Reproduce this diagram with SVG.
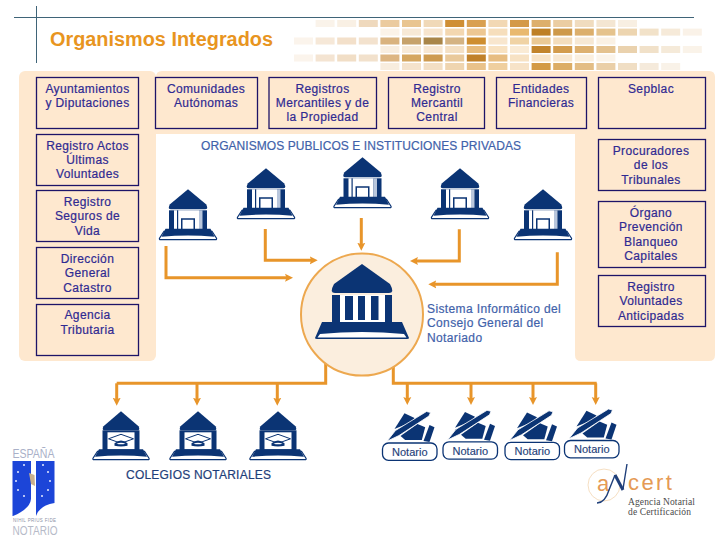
<svg xmlns="http://www.w3.org/2000/svg" width="720" height="540" viewBox="0 0 720 540">
<style>
text{font-family:"Liberation Sans",Arial,sans-serif}
.box{fill:none;stroke:#1d1468;stroke-width:1.3}
.bt{font-size:12px;fill:#2f2a92;text-anchor:middle;letter-spacing:.38px;stroke:#2f2a92;stroke-width:.2}
.bl{font-size:12px;fill:#3f62aa;letter-spacing:.38px;stroke:#3f62aa;stroke-width:.2}
.panel{fill:#fee8cf}
.conn{fill:none;stroke:#e8952a;stroke-width:3}
.nv{fill:#0b3474}
.wh{fill:#fff}
.lab{fill:#fff;stroke:#0b3474;stroke-width:1.3}
.nt{font-size:11px;fill:#1f3f7a;text-anchor:middle;stroke:#1f3f7a;stroke-width:.15}
.t{width:19px;height:7px}
</style>
<defs>
<marker id="ah" markerUnits="userSpaceOnUse" markerWidth="9" markerHeight="9" viewBox="0 0 9 9" refX="3" refY="4.5" orient="auto"><path d="M0,.5L8,4.5L0,8.5L1.5,4.5Z" fill="#e8952a"/></marker>
<symbol id="bank" viewBox="0 0 58 51" overflow="visible">
<path class="nv" d="M29,0L47,15Q50,20 46,20H12Q8,20 11,15Z"/>
<rect class="nv" x="10" y="21" width="38" height="20"/>
<rect class="wh" x="15" y="21" width="25" height="20"/>
<rect x="18" y="21" width="1.2" height="20" fill="#0b3474"/>
<rect x="40" y="21" width="3.5" height="20" fill="#b8c6dc"/>
<path class="nv" d="M22,41V29H36V41H34.5V30.5H23.5V41Z"/>
<path fill="#fff" stroke="#0b3474" stroke-width="1.2" d="M5,42H53L57.5,49Q58,50.3 56.5,50.3H1.5Q0,50.3 .5,49Z"/>
<path class="nv" d="M6.5,39.5H51.5L55.5,47.5Q29,45 2.5,47.5Z"/>
</symbol>
<symbol id="cole" viewBox="0 0 57 49" overflow="visible">
<path class="nv" d="M28.5,0L46,15Q48,19 45,19H12Q9,19 11,15Z"/>
<rect class="nv" x="10" y="19" width="37" height="24"/>
<rect class="wh" x="15" y="21" width="27" height="17"/>
<path fill="none" stroke="#0b3474" stroke-width="1" d="M16,27.5L28.5,23L41,27.5L28.5,32Z"/>
<path class="nv" d="M22,32Q28.5,26.5 35,32V34.5Q28.5,36 22,34.5Z"/>
<path fill="#fff" d="M24,32.5Q28.5,30.5 33,32.5Q28.5,33.5 24,32.5Z"/>
<path fill="#fff" stroke="#0b3474" stroke-width="1.2" d="M5,40H52L56.5,47Q57,48.4 55.5,48.4H1.5Q0,48.4 .5,47Z"/>
<path class="nv" d="M6.5,38H50.5L54.5,45.5Q28.5,43 2.5,45.5Z"/>
</symbol>
<symbol id="pen" viewBox="0 -33 55 34" width="55" height="34" overflow="visible">
<path class="nv" d="M12,-14L22,-29.7L32,-25L29,-21Z"/>
<path class="nv" d="M18,-7L35,-19L42.7,-15.7L39.3,-3L22.7,-3Z"/>
<path class="nv" d="M41,-2L47,-18L52,-15.7L47,-1Z"/>
<path class="nv" stroke="#fff" stroke-width=".8" d="M4.5,-1.8L13,-12.5L44,-31.5L48,-30.5L46.5,-27L16.5,-7.5Z"/>
</symbol>
</defs>

<g id="header">
<g id="mosaic">
<g transform="translate(0,20)">
<rect class="t" x="315.6" fill="#faf3ea"/><rect class="t" x="337.2" fill="#f9f0e4"/><rect class="t" x="358.8" fill="#efd9bd"/><rect class="t" x="380.4" fill="#ebcb9f"/><rect class="t" x="402" fill="#e9c590"/><rect class="t" x="423.6" fill="#f0d9b8"/><rect class="t" x="445.2" fill="#cf8f35"/><rect class="t" x="466.8" fill="#d9a050"/><rect class="t" x="488.4" fill="#f2d8b4"/><rect class="t" x="510" fill="#d49a48"/><rect class="t" x="531.6" fill="#ddaf6c"/><rect class="t" x="553.2" fill="#ebcda2"/><rect class="t" x="574.8" fill="#f0dcbf"/><rect class="t" x="596.4" fill="#f4e6d2"/><rect class="t" x="618" fill="#f8efe2"/>
</g>
<g transform="translate(0,28.6)">
<rect class="t" x="380.4" fill="#fbf3e8"/><rect class="t" x="402" fill="#f7e9d6"/><rect class="t" x="423.6" fill="#f7e5ce"/><rect class="t" x="445.2" fill="#f3d7b0"/><rect class="t" x="466.8" fill="#edc792"/><rect class="t" x="488.4" fill="#f6debc"/><rect class="t" x="510" fill="#e9b96f"/><rect class="t" x="531.6" fill="#be8026"/><rect class="t" x="553.2" fill="#ce994a"/><rect class="t" x="574.8" fill="#dcaf6c"/><rect class="t" x="596.4" fill="#e5c38d"/><rect class="t" x="618" fill="#edd5b0"/><rect class="t" x="639.6" fill="#f2e2c9"/><rect class="t" x="661.2" fill="#f6ead9"/><rect class="t" x="682.8" fill="#faf2e8"/>
</g>
<g transform="translate(0,37.5)">
<rect class="t" x="294" fill="#fbf4ec"/><rect class="t" x="315.6" fill="#f6e8d8"/><rect class="t" x="337.2" fill="#f3e0ca"/><rect class="t" x="358.8" fill="#f3e2ce"/><rect class="t" x="380.4" fill="#d9b37f"/><rect class="t" x="402" fill="#c6a26b"/><rect class="t" x="423.6" fill="#a98649"/><rect class="t" x="445.2" fill="#d4b383"/><rect class="t" x="466.8" fill="#ce8e30"/><rect class="t" x="488.4" fill="#f8e6ce"/><rect class="t" x="510" fill="#f0d3a5"/><rect class="t" x="531.6" fill="#eac994"/><rect class="t" x="553.2" fill="#f3ddbd"/><rect class="t" x="574.8" fill="#f6e8d4"/><rect class="t" x="596.4" fill="#faf1e4"/>
</g>
<g transform="translate(0,46)">
<rect class="t" x="380.4" fill="#f8eee0"/><rect class="t" x="402" fill="#f7ead8"/><rect class="t" x="423.6" fill="#f7e7d2"/><rect class="t" x="445.2" fill="#f4e0c4"/><rect class="t" x="466.8" fill="#e7bb7b"/><rect class="t" x="488.4" fill="#f8e2c2"/><rect class="t" x="510" fill="#faebd5"/><rect class="t" x="531.6" fill="#c2842b"/><rect class="t" x="553.2" fill="#d39c4d"/><rect class="t" x="574.8" fill="#ddb06f"/><rect class="t" x="596.4" fill="#e4c28f"/><rect class="t" x="618" fill="#ead2ae"/><rect class="t" x="639.6" fill="#f1e1c9"/><rect class="t" x="661.2" fill="#f5ead9"/><rect class="t" x="682.8" fill="#faf3e9"/>
</g>
<g transform="translate(0,54.5)">
<rect class="t" x="294" fill="#fbf4ec"/><rect class="t" x="315.6" fill="#f4e4d2"/><rect class="t" x="337.2" fill="#f1dec6"/><rect class="t" x="358.8" fill="#f2e1cc"/><rect class="t" x="380.4" fill="#ddb683"/><rect class="t" x="402" fill="#d5a761"/><rect class="t" x="423.6" fill="#ce9b50"/><rect class="t" x="445.2" fill="#e9c99b"/><rect class="t" x="466.8" fill="#c0812a"/><rect class="t" x="488.4" fill="#e7bd82"/><rect class="t" x="510" fill="#f7e2c4"/><rect class="t" x="531.6" fill="#f8e4c8"/><rect class="t" x="553.2" fill="#f8e8d2"/><rect class="t" x="574.8" fill="#faefdf"/><rect class="t" x="596.4" fill="#fbf4ea"/>
</g>
<g transform="translate(0,63)">
<rect class="t" x="380.4" fill="#f8edde"/><rect class="t" x="402" fill="#f5e3cc"/><rect class="t" x="423.6" fill="#f3dfc4"/><rect class="t" x="445.2" fill="#efd5b0"/><rect class="t" x="466.8" fill="#e9c28a"/><rect class="t" x="488.4" fill="#efcf9f"/><rect class="t" x="510" fill="#f7e3c8"/><rect class="t" x="531.6" fill="#d39a45"/><rect class="t" x="553.2" fill="#dcad66"/><rect class="t" x="574.8" fill="#e3bd85"/><rect class="t" x="596.4" fill="#eacfa8"/><rect class="t" x="618" fill="#f0dec4"/><rect class="t" x="639.6" fill="#f5eadb"/><rect class="t" x="661.2" fill="#f9f2e8"/>
</g>
</g>
<path d="M14,17.5H694" stroke="#3f6478" stroke-width="1" fill="none"/>
<path d="M36.5,6V63" stroke="#3f6478" stroke-width="1" fill="none"/>
<text x="50" y="46" font-size="20" font-weight="700" fill="#e8951f" textLength="223" lengthAdjust="spacingAndGlyphs">Organismos Integrados</text>
</g>

<g id="panels">
<rect class="panel" x="19" y="71" width="137" height="290" rx="6"/>
<path class="panel" d="M162,71H709Q715,71 715,77V355Q715,361 709,361H581Q575,361 575,355V134H156V77Q156,71 162,71Z"/>
</g>

<g id="n-ayuntamientos"><rect class="box" x="36.5" y="77.5" width="102" height="51"/><text class="bt" x="87.5" y="92.5">Ayuntamientos</text><text class="bt" x="87.5" y="106.5">y Diputaciones</text></g>
<g id="n-comunidades"><rect class="box" x="155.5" y="77.5" width="102" height="51"/><text class="bt" x="206" y="92.5">Comunidades</text><text class="bt" x="206" y="106.5">Autónomas</text></g>
<g id="n-registros"><rect class="box" x="269" y="77.5" width="107.5" height="51"/><text class="bt" x="322.5" y="92.5">Registros</text><text class="bt" x="322.5" y="106.5">Mercantiles y de</text><text class="bt" x="322.5" y="120.5">la Propiedad</text></g>
<g id="n-mercantil"><rect class="box" x="388.5" y="77.5" width="96" height="51"/><text class="bt" x="437" y="92.5">Registro</text><text class="bt" x="437" y="106.5">Mercantil</text><text class="bt" x="437" y="120.5">Central</text></g>
<g id="n-entidades"><rect class="box" x="496.5" y="77.5" width="90" height="51"/><text class="bt" x="541" y="92.5">Entidades</text><text class="bt" x="541" y="106.5">Financieras</text></g>
<g id="n-sepblac"><rect class="box" x="598.5" y="77.5" width="107" height="51"/><text class="bt" x="651" y="92.5">Sepblac</text></g>
<g id="n-actos"><rect class="box" x="36.5" y="134.5" width="102" height="51"/><text class="bt" x="87.5" y="150">Registro Actos</text><text class="bt" x="87.5" y="164">Últimas</text><text class="bt" x="87.5" y="178">Voluntades</text></g>
<g id="n-seguros"><rect class="box" x="36.5" y="190.5" width="102" height="51"/><text class="bt" x="87.5" y="205.5">Registro</text><text class="bt" x="87.5" y="220">Seguros de</text><text class="bt" x="87.5" y="234.5">Vida</text></g>
<g id="n-catastro"><rect class="box" x="36.5" y="247.5" width="102" height="51"/><text class="bt" x="87.5" y="262.5">Dirección</text><text class="bt" x="87.5" y="277">General</text><text class="bt" x="87.5" y="291.5">Catastro</text></g>
<g id="n-agencia"><rect class="box" x="36.5" y="304.5" width="102" height="51"/><text class="bt" x="87.5" y="319">Agencia</text><text class="bt" x="87.5" y="333.5">Tributaria</text></g>
<g id="n-procuradores"><rect class="box" x="598.5" y="139.5" width="107" height="51"/><text class="bt" x="651" y="154.5">Procuradores</text><text class="bt" x="651" y="169">de los</text><text class="bt" x="651" y="183.5">Tribunales</text></g>
<g id="n-organo"><rect class="box" x="598.5" y="201.5" width="107" height="66"/><text class="bt" x="651" y="217">Órgano</text><text class="bt" x="651" y="231">Prevención</text><text class="bt" x="651" y="245.5">Blanqueo</text><text class="bt" x="651" y="260">Capitales</text></g>
<g id="n-anticipadas"><rect class="box" x="598.5" y="275.5" width="107" height="51"/><text class="bt" x="651" y="291">Registro</text><text class="bt" x="651" y="305">Voluntades</text><text class="bt" x="651" y="319.5">Anticipadas</text></g>

<text id="t-organismos" x="201" y="149.5" font-size="12" fill="#3f62aa" stroke="#3f62aa" stroke-width=".2" textLength="320">ORGANISMOS PUBLICOS E INSTITUCIONES PRIVADAS</text>

<g id="connectors">
<path class="conn" marker-end="url(#ah)" d="M166,246V277.7H288"/>
<path class="conn" marker-end="url(#ah)" d="M265.3,229V260.3H312.7"/>
<path class="conn" marker-end="url(#ah)" d="M361.3,218V245.7"/>
<path class="conn" marker-end="url(#ah)" d="M459.3,229.3V261H415"/>
<path class="conn" marker-end="url(#ah)" d="M557.3,252.3V284.3H433.3"/>
<path class="conn" d="M325.7,363V383.3H116.7"/>
<path class="conn" marker-end="url(#ah)" d="M116.7,383.3V400.7"/>
<path class="conn" marker-end="url(#ah)" d="M197,383.3V400.7"/>
<path class="conn" marker-end="url(#ah)" d="M277.3,383.3V400.7"/>
<path class="conn" d="M393.3,363V383.3H596.7"/>
<path class="conn" marker-end="url(#ah)" d="M407.3,383.3V400"/>
<path class="conn" marker-end="url(#ah)" d="M471,383.3V400"/>
<path class="conn" marker-end="url(#ah)" d="M533,383.3V400"/>
<path class="conn" marker-end="url(#ah)" d="M595.7,383.3V400"/>
</g>

<use id="bank1" href="#bank" x="159" y="189.3" width="58" height="51"/>
<use id="bank2" href="#bank" x="237" y="168.3" width="58" height="51"/>
<use id="bank3" href="#bank" x="333.5" y="157.3" width="58" height="51"/>
<use id="bank4" href="#bank" x="431" y="168.3" width="58" height="51"/>
<use id="bank5" href="#bank" x="514" y="189.3" width="58" height="51"/>

<g id="central">
<circle cx="362" cy="314.6" r="61" fill="#fbeede" stroke="#eda84f" stroke-width="2"/>
<g transform="translate(315,264)">
<path class="nv" d="M47,0L75,20Q80,29 74,29H20Q14,29 19,20Z"/>
<rect class="wh" x="17" y="31" width="60" height="28"/>
<rect class="nv" x="17" y="31" width="8" height="28"/><rect class="nv" x="30" y="32" width="8" height="24"/><rect class="nv" x="43" y="32" width="7" height="24"/><rect class="nv" x="56" y="32" width="7.5" height="24"/><rect class="nv" x="70" y="31" width="7" height="28"/>
<path class="nv" d="M7,58H87L94,74Q94,75 92,75H2Q0,75 0,74Z"/>
<path class="wh" d="M5,70Q47,66 89,70L91.5,73.5H2.5Z"/>
</g>
</g>
<text id="t-sistema" class="bl"><tspan x="427" y="312.5">Sistema Informático del</tspan><tspan x="427" y="327">Consejo General del</tspan><tspan x="427" y="341.5">Notariado</tspan></text>

<use id="colegio1" href="#cole" x="92.5" y="411.3" width="57" height="49"/>
<use id="colegio2" href="#cole" x="169.5" y="411.3" width="57" height="49"/>
<use id="colegio3" href="#cole" x="249.5" y="411.3" width="57" height="49"/>
<text id="t-colegios" x="126" y="479" font-size="12" fill="#1f3f7a" stroke="#1f3f7a" stroke-width=".2" textLength="145">COLEGIOS NOTARIALES</text>

<g id="notario1" transform="translate(382.5,443)"><use href="#pen" x="0" y="-33" width="55" height="34"/><rect class="lab" width="54.5" height="17.3" rx="6"/><text class="nt" x="27.3" y="12.8">Notario</text></g>
<g id="notario2" transform="translate(443,441.8)"><use href="#pen" x="0" y="-33" width="55" height="34"/><rect class="lab" width="54.5" height="17.3" rx="6"/><text class="nt" x="27.3" y="12.8">Notario</text></g>
<g id="notario3" transform="translate(505,442.3)"><use href="#pen" x="0" y="-33" width="55" height="34"/><rect class="lab" width="54.5" height="17.3" rx="6"/><text class="nt" x="27.3" y="12.8">Notario</text></g>
<g id="notario4" transform="translate(564.5,440.5)"><use href="#pen" x="0" y="-33" width="55" height="34"/><rect class="lab" width="54.5" height="17.3" rx="6"/><text class="nt" x="27.3" y="12.8">Notario</text></g>

<g id="logo-notario">
<text x="12.5" y="458" font-size="12.5" fill="#a9b0c8" textLength="42" lengthAdjust="spacingAndGlyphs">ESPAÑA</text>
<path fill="#1c45d8" d="M12.5,461H31V499Q30,509 13,516H12.5Z"/>
<path fill="#1c45d8" d="M36,461H54.5V503Q40,505 36,516Z"/>
<g fill="#e6ebff"><circle cx="24" cy="465" r="1"/><circle cx="18" cy="472" r="1"/><circle cx="16" cy="481" r="1"/><circle cx="18" cy="490" r="1"/><circle cx="24" cy="496" r="1"/><circle cx="43" cy="465" r="1"/><circle cx="48" cy="472" r="1"/><circle cx="50" cy="481" r="1"/><circle cx="48" cy="490" r="1"/><circle cx="42" cy="496" r="1"/></g>
<path fill="#c9b08e" d="M29,473L34.5,475L35,486L31,484Z"/>
<text x="13" y="522" font-size="4.5" fill="#8c93a6" textLength="43">NIHIL PRIUS FIDE</text>
<text x="12.5" y="534.5" font-size="12" fill="#b6bac8" textLength="45" lengthAdjust="spacingAndGlyphs">NOTARIO</text>
</g>

<g id="logo-ancert">
<circle cx="604" cy="485" r="16" fill="none" stroke="#f3d6b2" stroke-width=".8"/>
<text x="597" y="491" font-size="22" fill="#e59a55">a</text>
<path fill="none" stroke="#1f3f7a" stroke-width="1.4" d="M597,503Q605,503 609,490L615,475M623,489L627,464"/>
<path fill="none" stroke="#1f3f7a" stroke-width="3" d="M615,475L623,490"/>
<text x="628" y="490" font-size="22" fill="#e59a55" letter-spacing="2.4">cert</text>
<text x="628" y="504.5" font-size="9.5" fill="#4a4a4a" style="font-family:'Liberation Serif',serif" textLength="67">Agencia Notarial</text>
<text x="628" y="515" font-size="9.5" fill="#4a4a4a" style="font-family:'Liberation Serif',serif" textLength="63">de Certificación</text>
</g>
</svg>
